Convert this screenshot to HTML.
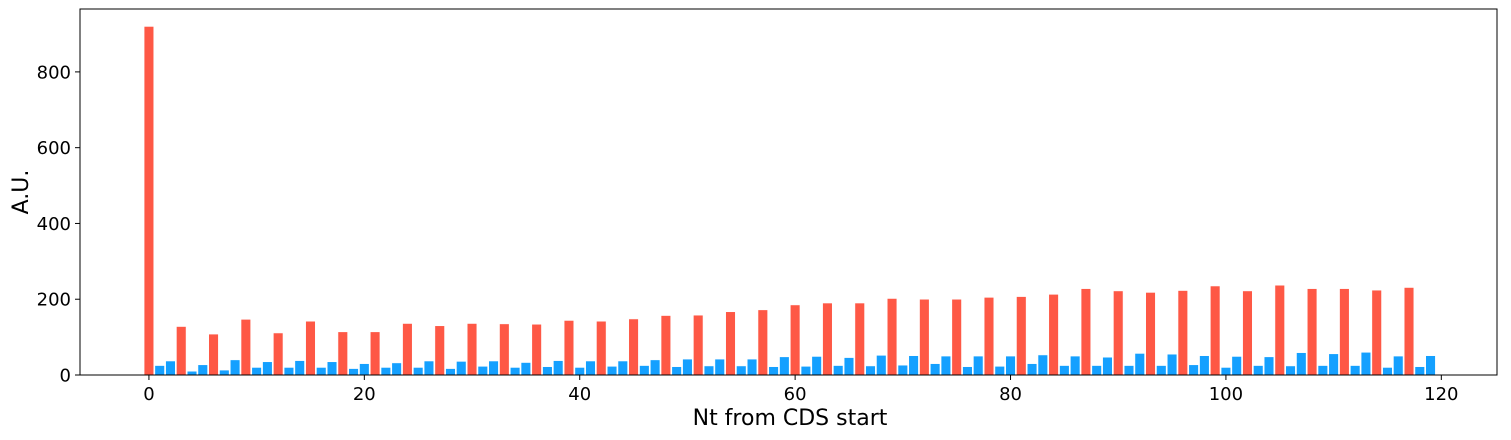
<!DOCTYPE html>
<html><head><meta charset="utf-8"><style>
html,body{margin:0;padding:0;background:#fff;}
text{font-family:"DejaVu Sans","Liberation Sans",sans-serif;fill:#000;}
</style></head><body>
<svg id="chart" width="1511" height="435" xmlns="http://www.w3.org/2000/svg"></svg>
<script>
const redPositions=[0,3,6,9,12,15,18,21,24,27,30,33,36,39,42,45,48,51,54,57,60,63,66,69,72,75,78,81,84,87,90,93,96,99,102,105,108,111,114,117];
const redValues=[920,128,108,147,111,142,114,114,136,130,136,135,134,144,142,148,157,158,167,172,185,190,190,202,200,200,205,207,213,228,222,218,223,235,222,237,228,228,224,231];
const bluePositions=[1,2,4,5,7,8,10,11,13,14,16,17,19,20,22,23,25,26,28,29,31,32,34,35,37,38,40,41,43,44,46,47,49,50,52,53,55,56,58,59,61,62,64,65,67,68,70,71,73,74,76,77,79,80,82,83,85,86,88,89,91,92,94,95,97,98,100,101,103,104,106,107,109,110,112,113,115,116,118,119];
const blueValues=[25,37,10,27,13,40,20,35,20,38,20,35,17,30,20,32,20,37,17,36,23,37,20,33,22,38,20,37,23,37,25,40,22,42,24,42,24,42,22,48,23,49,25,46,24,52,26,51,30,50,22,50,23,50,30,53,25,50,25,47,25,57,25,55,27,51,20,49,25,48,24,59,25,56,25,60,20,50,22,51];
const xTicks=[0,20,40,60,80,100,120];
const yTicks=[0,200,400,600,800];

const svg=document.getElementById('chart');
const NS='http://www.w3.org/2000/svg';
const L=80,R=1497,T=9,B=375;
const xMin=-6.4,xMax=125.17,yMin=0,yMax=966;
const xs=v=>L+(v-xMin)/(xMax-xMin)*(R-L);
const ys=v=>B-(v-yMin)/(yMax-yMin)*(B-T);
function mk(tag,attrs){const e=document.createElementNS(NS,tag);for(const k in attrs)e.setAttribute(k,attrs[k]);svg.appendChild(e);return e;}
function bars(pos,vals,color,name){
  for(let i=0;i<pos.length;i++){
    const x0=xs(pos[i]-0.45),x1=xs(pos[i]+0.45);
    const r=mk('rect',{x:x0,y:ys(vals[i]),width:x1-x0,height:ys(0)-ys(vals[i]),fill:color,stroke:'#fff','stroke-width':0.6});
    
    
  }
}
bars(redPositions,redValues,'#fe5845','bar-red');
bars(bluePositions,blueValues,'#14a0ff','bar-blue');
const frame=mk('rect',{x:L,y:T,width:R-L,height:B-T,fill:'none',stroke:'#000','stroke-width':1});


xTicks.forEach(t=>{
  const x=xs(t);
  mk('line',{x1:x,x2:x,y1:B,y2:B+5,stroke:'#000','stroke-width':1});
  const tx=mk('text',{x:x,y:B+25,'font-size':18,'text-anchor':'middle'});
  tx.textContent=t;
  
  
});
yTicks.forEach(t=>{
  const y=ys(t);
  mk('line',{x1:L-5,x2:L,y1:y,y2:y,stroke:'#000','stroke-width':1});
  const tx=mk('text',{x:L-9,y:y+6.5,'font-size':18,'text-anchor':'end'});
  tx.textContent=t;
  
  
});
const xl=mk('text',{x:790,y:425,'font-size':22,'text-anchor':'middle'});
xl.textContent='Nt from CDS start';


const yl=mk('text',{x:0,y:0,'font-size':22,'text-anchor':'middle',transform:'translate(28,'+((T+B)/2)+') rotate(-90)'});
yl.textContent='A.U.';


</script>
</body></html>
